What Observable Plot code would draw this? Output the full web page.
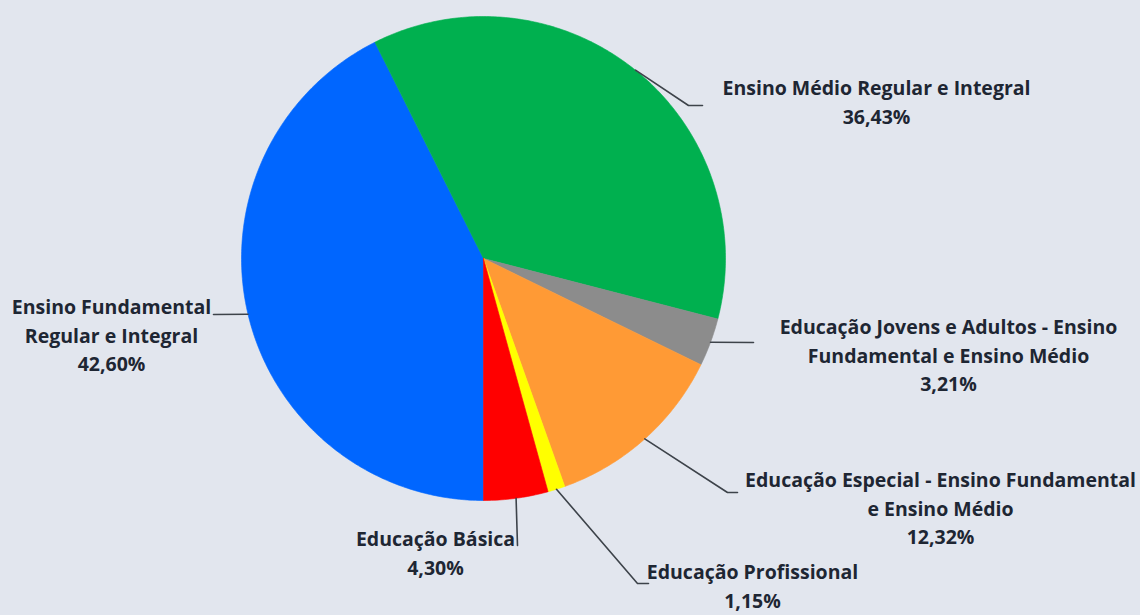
<!DOCTYPE html>
<html>
<head>
<meta charset="utf-8">
<script src="https://cdn.jsdelivr.net/npm/d3@7"></script>
<script src="https://cdn.jsdelivr.net/npm/@observablehq/plot@0.6"></script>
<style>
  html, body { margin: 0; padding: 0; background: #e2e6ee; }
  #chart { width: 1140px; height: 615px; }
</style>
</head>
<body>
<div id="chart"></div>
<script>
// ---- Data ----
const categories = [
  "Ensino Fundamental\nRegular e Integral",
  "Ensino Médio Regular e Integral",
  "Educação Jovens e Adultos - Ensino\nFundamental e Ensino Médio",
  "Educação Especial - Ensino Fundamental\ne Ensino Médio",
  "Educação Profissional",
  "Educação Básica"
];
const values = [42.60, 36.43, 3.21, 12.32, 1.15, 4.30];
const valueLabels = ["42,60%", "36,43%", "3,21%", "12,32%", "1,15%", "4,30%"];
const colors = ["#0066ff", "#00b04f", "#8c8c8c", "#ff9a35", "#ffff00", "#ff0000"];

// ---- Layout (pixels) ----
const W = 1140, H = 615;
const cx = 483, cy = 258, R = 242;
// label block centre [x, y] and leader elbow / end points
const labelPos = [[111, 333], [876, 100], [948, 353], [940, 506], [752, 584], [435, 551]];
const leaderElbow = [[213, 314], [688, 105], [753, 342], [727, 492], [637, 583], [517, 545]];
const leaderEnd   = [[213, 314], [702, 105], [753, 342], [737, 492], [648, 583], [517, 545]];

const arcs = d3.pie().sort(null).startAngle(Math.PI).endAngle(3 * Math.PI)(values);
const pt = (a, r) => [cx + r * Math.sin(a), cy - r * Math.cos(a)];

// slice polygons
const slicePts = [];
arcs.forEach((a, i) => {
  const n = Math.max(8, Math.ceil((a.endAngle - a.startAngle) * 90));
  slicePts.push({i, x: cx, y: cy});
  for (let k = 0; k <= n; k++) {
    const t = a.startAngle + (a.endAngle - a.startAngle) * k / n;
    const [x, y] = pt(t, R);
    slicePts.push({i, x, y});
  }
  slicePts.push({i, x: cx, y: cy});
});

// leader lines
const leaderPts = [];
arcs.forEach((a, i) => {
  const [sx, sy] = pt((a.startAngle + a.endAngle) / 2, R);
  leaderPts.push({i, x: sx, y: sy});
  leaderPts.push({i, x: leaderElbow[i][0], y: leaderElbow[i][1]});
  leaderPts.push({i, x: leaderEnd[i][0], y: leaderEnd[i][1]});
});

const labels = categories.map((c, i) => ({
  text: c + "\n" + valueLabels[i],
  x: labelPos[i][0], y: labelPos[i][1]
}));

const chart = Plot.plot({
  width: W, height: H,
  margin: 0,
  x: {domain: [0, W], range: [0, W], axis: null},
  y: {domain: [0, H], range: [0, H], axis: null},
  style: {background: "#e2e6ee", fontFamily: "'Open Sans', Lato, sans-serif"},
  marks: [
    Plot.line(slicePts, {x: "x", y: "y", z: "i", fill: d => colors[d.i], stroke: d => colors[d.i], strokeWidth: 0.6, curve: "linear"}),
    Plot.line(leaderPts, {x: "x", y: "y", z: "i", stroke: "#3d434a", strokeWidth: 1.6, curve: "linear"}),
    Plot.text(labels, {x: "x", y: "y", text: "text", textAnchor: "middle", lineAnchor: "middle",
      fontSize: 19.5, fontWeight: "bold", lineHeight: 1.46, fill: "#1e2633"})
  ]
});
document.getElementById("chart").appendChild(chart);
</script>
</body>
</html>
